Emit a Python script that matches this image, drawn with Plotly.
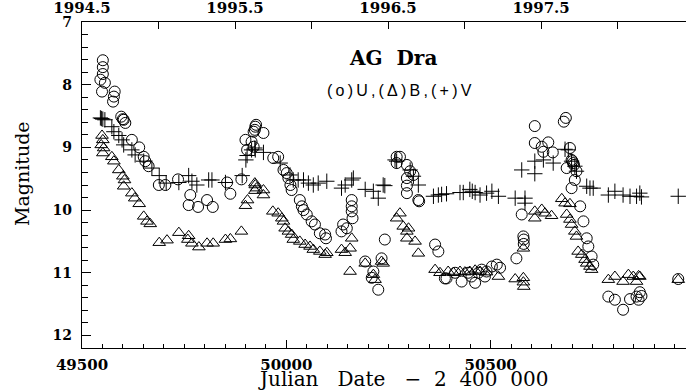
import plotly.graph_objects as go

# ---- data (JD - 2400000, magnitude) ----
u_jd = [49551, 49551, 49551, 49545, 49556, 49549, 49580, 49578, 49576, 49596, 49602, 49606, 49600,
        49622, 49640, 49651, 49655, 49663, 49688, 49704, 49735, 49765, 49761, 49784, 49806, 49820,
        49855, 49863, 49890, 49900, 49904, 49920, 49920, 49924, 49926, 49923, 49915, 49944, 49968,
        49980, 49993, 50001, 50005, 50013, 50010, 50033, 50038, 50042, 50050, 50062, 50070, 50082,
        50095, 50097, 50135, 50139, 50148, 50160, 50160, 50160, 50162, 50193, 50213, 50209, 50225,
        50233, 50241, 50270, 50278, 50270, 50295, 50303, 50311, 50295, 50295, 50295, 50323, 50325,
        50364, 50372, 50388, 50392, 50413, 50429, 50445, 50453, 50462, 50470, 50478, 50486, 50490,
        50503, 50515, 50523, 50563, 50576, 50580, 50581, 50581, 50608, 50608, 50625, 50629, 50641,
        50652, 50679, 50684, 50686, 50694, 50698, 50702, 50706, 50710, 50698, 50700, 50704, 50719,
        50727, 50735, 50739, 50747, 50751, 50788, 50804, 50824, 50841, 50857, 50862, 50865, 50869,
        50959]
u_mag = [7.61, 7.72, 7.83, 7.92, 7.97, 8.11, 8.11, 8.19, 8.27, 8.51, 8.56, 8.61, 8.55,
         8.88, 9.00, 9.15, 9.22, 9.30, 9.60, 9.60, 9.51, 9.76, 9.92, 9.95, 9.84, 9.95,
         9.56, 9.74, 9.51, 8.88, 9.04, 8.75, 8.99, 8.67, 8.64, 8.72, 8.91, 8.77, 9.17,
         9.15, 9.36, 9.41, 9.49, 9.68, 9.60, 9.84, 9.94, 10.00, 10.07, 10.18, 10.23, 10.37,
         10.39, 10.45, 10.34, 10.23, 10.29, 9.84, 9.94, 10.02, 10.13, 10.82, 10.98, 11.08, 11.27,
         10.77, 10.47, 9.15, 9.15, 9.25, 9.28, 9.38, 9.44, 9.49, 9.61, 9.73, 9.84, 9.86,
         10.55, 10.66, 11.09, 11.09, 11.00, 11.14, 11.00, 11.06, 11.16, 11.00, 10.95, 11.06, 10.98,
         10.90, 10.87, 10.92, 10.77, 10.07, 10.42, 10.47, 10.54, 8.66, 8.93, 8.99, 9.07, 8.92,
         9.08, 8.59, 8.53, 9.33, 9.01, 9.20, 9.25, 9.52, 9.38, 9.65, 9.22, 9.28, 9.94,
         10.18, 10.45, 10.58, 10.74, 10.87, 11.38, 11.43, 11.59, 11.42, 11.38, 11.43, 11.31, 11.37,
         11.10]

b_jd = [49549, 49551, 49547, 49553, 49551, 49573, 49578, 49590, 49600, 49604, 49602, 49622, 49629,
        49640, 49651, 49659, 49667, 49689, 49708, 49737, 49761, 49759, 49769, 49786, 49806, 49821,
        49851, 49863, 49890, 49900, 49905, 49924, 49923, 49923, 49927, 49944, 49944, 49967, 49980,
        49989, 49993, 49997, 50005, 50013, 50017, 50033, 50046, 50058, 50066, 50082, 50095, 50099,
        50135, 50144, 50156, 50160, 50156, 50193, 50213, 50217, 50233, 50237, 50270, 50278, 50286,
        50295, 50299, 50295, 50315, 50323, 50364, 50376, 50396, 50409, 50425, 50437, 50449, 50462,
        50474, 50490, 50519, 50560, 50580, 50580, 50581, 50580, 50608, 50608, 50625, 50633, 50649,
        50674, 50682, 50694, 50686, 50694, 50698, 50706, 50710, 50714, 50723, 50731, 50735, 50743,
        50747, 50788, 50804, 50824, 50837, 50849, 50862, 50865, 50857, 50959]
b_mag = [8.81, 8.88, 8.96, 9.01, 9.09, 9.15, 9.22, 9.36, 9.46, 9.52, 9.62, 9.73, 9.81,
         9.90, 10.10, 10.18, 10.22, 10.52, 10.48, 10.36, 10.41, 10.47, 10.53, 10.59, 10.53, 10.53,
         10.47, 10.46, 10.34, 9.93, 9.84, 9.60, 9.69, 9.57, 9.65, 9.68, 9.76, 10.02, 10.05,
         10.13, 10.18, 10.29, 10.34, 10.39, 10.47, 10.50, 10.55, 10.58, 10.63, 10.66, 10.71, 10.68,
         10.63, 10.68, 10.61, 10.45, 10.98, 10.85, 11.03, 11.11, 10.82, 10.85, 10.13, 10.05, 10.26,
         10.34, 10.29, 10.45, 10.50, 10.69, 10.95, 11.00, 10.98, 11.00, 10.98, 10.99, 10.98, 10.96,
         10.98, 10.99, 11.06, 11.10, 11.08, 11.15, 11.22, 10.61, 10.02, 10.13, 9.99, 10.05, 10.09,
         9.82, 9.89, 9.90, 10.07, 10.15, 10.23, 10.34, 10.42, 10.66, 10.71, 10.79, 10.85, 10.90,
         10.95, 11.11, 11.06, 11.14, 11.03, 11.06, 11.05, 11.06, 11.14, 11.11]

v_jd = [49545, 49551, 49556, 49548, 49573, 49578, 49590, 49598, 49602, 49622, 49630, 49651, 49671,
        49689, 49706, 49737, 49761, 49769, 49781, 49810, 49818, 49851, 49892, 49901, 49904, 49915,
        49923, 49924, 49944, 49985, 50009, 50017, 50029, 50042, 50054, 50066, 50078, 50099, 50135,
        50144, 50160, 50164, 50193, 50213, 50225, 50237, 50241, 50266, 50270, 50303, 50311, 50323,
        50360, 50372, 50380, 50392, 50425, 50433, 50449, 50455, 50462, 50474, 50490, 50503, 50519,
        50560, 50584, 50584, 50576, 50608, 50608, 50629, 50653, 50682, 50690, 50698, 50706, 50710,
        50735, 50743, 50751, 50788, 50804, 50824, 50841, 50857, 50865, 50869, 50959]
v_mag = [8.53, 8.55, 8.56, 8.54, 8.67, 8.75, 8.81, 8.88, 8.96, 9.04, 9.12, 9.22, 9.33,
         9.45, 9.57, 9.56, 9.45, 9.54, 9.60, 9.52, 9.52, 9.56, 9.45, 9.20, 9.13, 9.04,
         9.01, 9.04, 9.08, 9.25, 9.44, 9.52, 9.52, 9.52, 9.57, 9.60, 9.57, 9.54, 9.65,
         9.60, 9.52, 9.49, 9.67, 9.70, 9.81, 9.60, 9.61, 9.20, 9.22, 9.36, 9.46, 9.60,
         9.78, 9.76, 9.75, 9.74, 9.72, 9.72, 9.67, 9.70, 9.72, 9.76, 9.73, 9.70, 9.78,
         9.81, 9.81, 9.89, 9.36, 9.42, 9.22, 9.20, 9.25, 9.03, 9.04, 9.22, 9.30, 9.38,
         9.62, 9.65, 9.65, 9.76, 9.70, 9.76, 9.78, 9.78, 9.73, 9.79, 9.78]

x_range = [49500, 50978]
y_range = [12.2, 7]
year_range = [1994.5, 1998.447]
year_ticks = [1994.5, 1995.0, 1995.5, 1996.0, 1996.5, 1997.0, 1997.5, 1998.0]
year_text = ["1994.5", "", "1995.5", "", "1996.5", "", "1997.5", ""]

serif = "DejaVu Serif"
fig = go.Figure()
fig.add_trace(go.Scatter(x=u_jd, y=u_mag, mode="markers", name="U",
                         marker=dict(symbol="circle-open", size=11, color="black",
                                     line=dict(width=1, color="black"))))
fig.add_trace(go.Scatter(x=b_jd, y=b_mag, mode="markers", name="B",
                         marker=dict(symbol="triangle-up-open", size=11, color="black",
                                     line=dict(width=1, color="black"))))
fig.add_trace(go.Scatter(x=v_jd, y=v_mag, mode="markers", name="V",
                         marker=dict(symbol="cross-thin", size=11, color="black",
                                     line=dict(width=1, color="black"))))
# invisible trace to activate top axis
fig.add_trace(go.Scatter(x=[year_range[0]], y=[7], xaxis="x2", mode="markers",
                         marker=dict(opacity=0), showlegend=False, hoverinfo="skip"))

tickfont = dict(family=serif, size=15, color="black", weight="bold")
nb = "\u00a0"
xtitle = "Julian" + nb * 3 + "Date" + nb * 3 + "\u2212" + nb * 2 + "2" + nb * 2 + "400" + nb * 2 + "000"
fig.update_layout(
    width=686, height=391,
    margin=dict(l=82, r=0, t=22, b=43),
    paper_bgcolor="white", plot_bgcolor="white",
    showlegend=False,
    xaxis=dict(range=x_range, showgrid=False, zeroline=False, showline=True,
               linecolor="black", linewidth=1.2, ticks="inside", ticklen=8,
               tickcolor="black", tickwidth=1.2, dtick=500, tick0=49500,
               tickformat="d", tickfont=tickfont, ticklabelstandoff=3,
               minor=dict(ticks="inside", ticklen=4, dtick=50, tickcolor="black", tickwidth=1.2)),
    xaxis2=dict(range=year_range, overlaying="x", side="top", anchor="y",
                showgrid=False, zeroline=False, showline=True, linecolor="black", linewidth=1.2,
                ticks="inside", ticklen=7, tickcolor="black", tickwidth=1.2,
                tickmode="array", tickvals=year_ticks, ticktext=year_text,
                tickfont=tickfont, ticklabelstandoff=2),
    yaxis=dict(range=y_range, showgrid=False, zeroline=False, showline=True,
               linecolor="black", linewidth=1.2, ticks="inside", ticklen=9,
               tickcolor="black", tickwidth=1.2, dtick=1, tick0=7,
               tickfont=dict(family=serif, size=14, color="black", weight="bold"),
               ticklabelstandoff=6,
               minor=dict(ticks="inside", ticklen=6, dtick=0.2, tickcolor="black", tickwidth=1.2)),
    annotations=[
        dict(text="AG\u00a0\u00a0Dra", x=0.515, y=0.89, xref="paper", yref="paper",
             showarrow=False, xanchor="center", yanchor="middle",
             font=dict(family=serif, size=20, color="black", weight="bold")),
        dict(text="\u2009".join(list("(o)U,(\u0394)B,(+)V")), x=0.526, y=0.791,
             xref="paper", yref="paper", showarrow=False, xanchor="center", yanchor="middle",
             font=dict(family="Liberation Sans", size=16, color="black")),
        dict(text=xtitle, x=0.531, y=-0.095, xref="paper", yref="paper", showarrow=False,
             xanchor="center", yanchor="middle",
             font=dict(family=serif, size=20, color="black")),
        dict(text="Magnitude", x=-0.0993, y=0.534, xref="paper", yref="paper",
             showarrow=False, textangle=-90, xanchor="center", yanchor="middle",
             font=dict(family=serif, size=19, color="black")),
    ],
)

fig.write_html("out.html")
